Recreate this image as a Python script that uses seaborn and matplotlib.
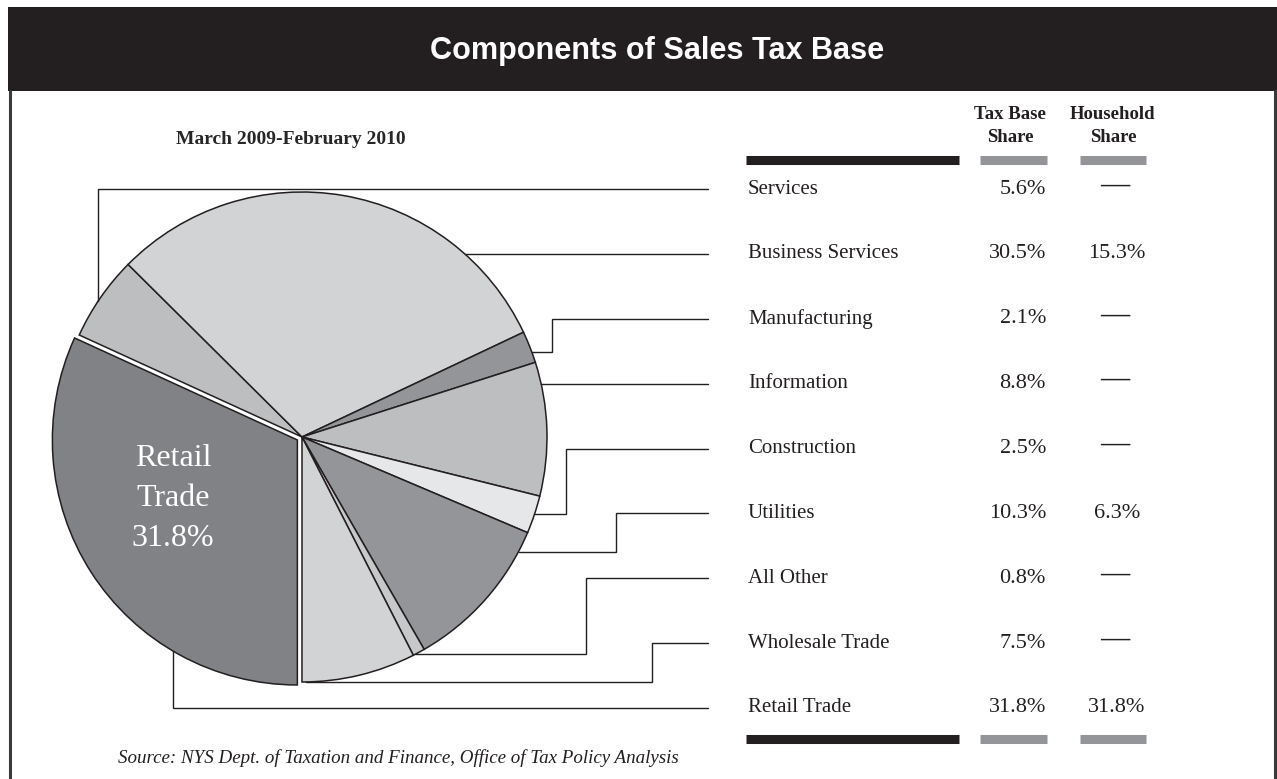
import numpy as np
import matplotlib
matplotlib.use('Agg')
import matplotlib.pyplot as plt
import seaborn as sns

sns.set_theme(style="white")
plt.rcParams['font.family'] = ['Liberation Serif', 'DejaVu Serif']

# data (table order, pie goes clockwise in this order)
categories = ['Services', 'Business Services', 'Manufacturing', 'Information',
              'Construction', 'Utilities', 'All Other', 'Wholesale Trade', 'Retail Trade']
tax_base_share = [5.6, 30.5, 2.1, 8.8, 2.5, 10.3, 0.8, 7.5, 31.8]
household_share = [None, 15.3, None, None, None, 6.3, None, None, 31.8]
slice_colors = ['#bcbec0', '#d1d3d4', '#939598', '#bcbec0', '#e6e7e8',
                '#939598', '#c7c8ca', '#d1d3d4', '#808285']

period = 'March 2009-February 2010'
title = 'Components of Sales Tax Base'
source = 'Source: NYS Dept. of Taxation and Finance, Office of Tax Policy Analysis'

W, H = 1277, 779
fig = plt.figure(figsize=(W / 100, H / 100), dpi=100)
ax = fig.add_axes([0, 0, 1, 1])


def Y(y):
    # picture rows (from top) -> axes units (from bottom)
    return H - y


dark = '#231f20'
mid = '#939598'

# header band and frame sides
ax.add_patch(plt.Rectangle((8, Y(91)), W - 8, 84, color=dark, lw=0, zorder=1))
title_txt = ax.text(657, Y(51), title, color='white', fontsize=24, fontweight='bold',
                    ha='center', va='center',
                    family=['Liberation Sans', 'DejaVu Sans'])
ax.plot([10, 10], [Y(91), 0], color='#3a3a3a', lw=2.2)
ax.plot([1275, 1275], [Y(91), 0], color='#3a3a3a', lw=2.2)

# pie (explode is in data units here, i.e. pixels)
cx, cy, R = 302, Y(437), 245
explode = [0] * (len(categories) - 1) + [5.5]
wedges, _ = ax.pie(tax_base_share, colors=slice_colors, startangle=155.4,
                   counterclock=False, center=(cx, cy), radius=R, explode=explode,
                   frame=True, wedgeprops=dict(edgecolor=dark, linewidth=1.1))

ax.text(291, Y(139), period, fontsize=14, fontweight='bold', ha='center', va='center')

retail_label = categories[-1].replace(' ', '\n') + f'\n{tax_base_share[-1]}%'
ax.text(173, Y(498), retail_label, color='white', fontsize=23, ha='center',
        va='center', linespacing=1.5)

# leader lines from slices to table rows
rows_y = np.linspace(189, 708, len(categories))
route = ['v', 'h', 'e', 'h', 'e', 'e', 'e', 'e', 'v']
anchor_deg = [146.4, None, 20.3, None, -18.4, -27.9, -62.5, -89.0, 239.5]
elbow_x = [None, None, 552, None, 566, 616, 586, 652, None]
line_end = 708

for w, kind, a, ex, ry in zip(wedges, route, anchor_deg, elbow_x, rows_y):
    wx, wy = w.center
    yr = Y(ry)
    if kind == 'h':
        x0 = wx + np.sqrt(w.r ** 2 - (yr - wy) ** 2)
        xs, ys = [x0, line_end], [yr, yr]
    else:
        px = wx + w.r * np.cos(np.radians(a))
        py = wy + w.r * np.sin(np.radians(a))
        if kind == 'v':
            xs, ys = [px, px, line_end], [py, yr, yr]
        else:
            xs, ys = [px, ex, ex, line_end], [py, py, yr, yr]
    ax.plot(xs, ys, color=dark, lw=1.0, solid_joinstyle='miter')

# table
label_x, value_x, house_x = 748, 1046, 1117
for name, tb, hh, ry in zip(categories, tax_base_share, household_share, rows_y):
    ax.text(label_x, Y(ry), name, fontsize=15, ha='left', va='center', color=dark)
    ax.text(value_x, Y(ry), f'{tb}%', fontsize=16, ha='right', va='center', color=dark)
    if hh is None:
        ax.text(house_x - 2, Y(ry - 4), '\u2014', fontsize=21, fontweight='bold',
                ha='center', va='center', color=dark)
    else:
        ax.text(house_x, Y(ry), f'{hh}%', fontsize=16, ha='center', va='center',
                color=dark)

ax.text(1010, Y(126), 'Tax Base\nShare', fontsize=13.5, fontweight='bold',
        ha='center', va='center', linespacing=1.45, color=dark)
ax.text(1113, Y(126), 'Household\nShare', fontsize=13.5, fontweight='bold',
        ha='center', va='center', linespacing=1.45, color=dark)

for by in (159.5, 739):
    ax.plot([746, 959], [Y(by)] * 2, color=dark, lw=6.5, solid_capstyle='butt')
    ax.plot([980, 1047], [Y(by)] * 2, color=mid, lw=6.5, solid_capstyle='butt')
    ax.plot([1080, 1146], [Y(by)] * 2, color=mid, lw=6.5, solid_capstyle='butt')

ax.text(118, Y(758), source, fontsize=13.7, style='italic', ha='left',
        va='center', color=dark)

ax.set_xlim(0, W)
ax.set_ylim(0, H)
ax.set_aspect('equal')
ax.axis('off')
sns.despine(ax=ax, left=True, bottom=True)

# fit the title to the width it has in the original banner
fig.canvas.draw()
tw = title_txt.get_window_extent().width
title_txt.set_fontsize(title_txt.get_fontsize() * 455 / tw)

fig.savefig('out.png', dpi=100, facecolor='white')
